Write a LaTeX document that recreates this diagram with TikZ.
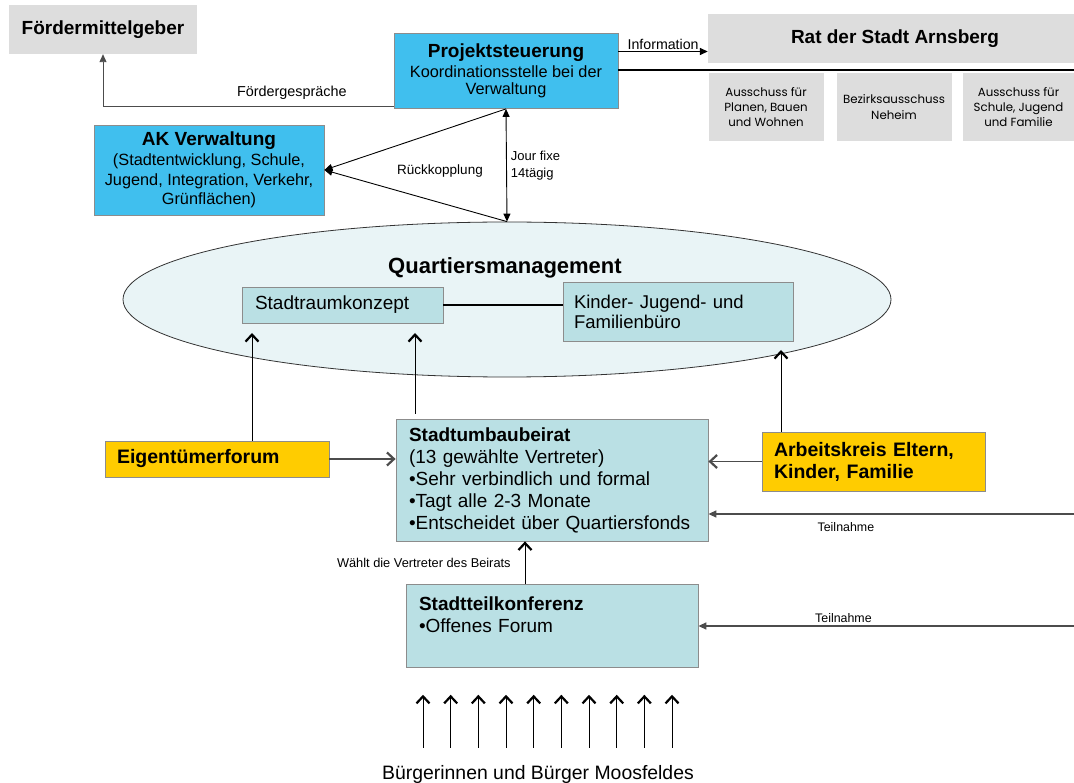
\documentclass[tikz,border=0pt]{standalone}
\usepackage{fontspec}
\setmainfont{Liberation Sans}
\newfontfamily\gothic{Poppins}
\usetikzlibrary{arrows.meta, positioning, calc, shapes.geometric}
\definecolor{ratgray}{RGB}{221,221,221}
\definecolor{skyblue1}{RGB}{64,191,238}
\definecolor{qmteal}{RGB}{186,224,228}
\definecolor{icefill}{RGB}{233,244,246}
\definecolor{gold1}{RGB}{255,204,0}
\definecolor{edgegray}{RGB}{140,140,140}
\tikzset{
  graybox/.style={fill=ratgray, inner sep=0pt, align=center, font=\bfseries\fontsize{19}{22}\selectfont},
  gremium/.style={fill=ratgray, inner sep=0pt, align=center, minimum height=68pt, font=\gothic\fontsize{11.8}{15.2}\selectfont},
  bluebox/.style={fill=skyblue1, draw=edgegray, line width=0.8pt, inner sep=0pt, align=center, font=\fontsize{16.3}{19}\selectfont},
  leftbox/.style={draw=edgegray, line width=0.8pt, inner ysep=0pt, inner xsep=12pt, align=left, font=\fontsize{19}{22}\selectfont},
  tealnode/.style={leftbox, fill=qmteal},
  goldnode/.style={leftbox, fill=gold1, font=\bfseries\fontsize{19.5}{22}\selectfont},
  lbl/.style={inner sep=0pt, font=\fontsize{#1}{#1}\selectfont},
  filltip/.style={-{Triangle[length=8pt,width=7pt]}, line width=0.9pt},
  openarr/.style={-{Straight Barb[length=7pt,width=13pt,line width=2.2pt]}, line width=0.8pt},
}
\begin{document}
\begin{tikzpicture}[x=1pt, y=-1pt]
  \useasboundingbox (0,0) rectangle (1074,783);
  % top row
  \node[graybox, minimum width=188pt, minimum height=49pt] (fmg) at (103,29.5) {Fördermittelgeber};
  \node[bluebox, minimum width=224pt, minimum height=75pt] (ps) at (506,71)
    {{\bfseries\fontsize{19}{20}\selectfont Projektsteuerung}\\[1.5pt]Koordinationsstelle bei der\\[-2pt]Verwaltung};
  \node[graybox, minimum width=374pt, minimum height=49pt] (rat) at (895,38.5) {Rat der Stadt Arnsberg};
  \node[gremium, minimum width=115pt] (aus1) at (766,107) {Ausschuss für\\Planen, Bauen\\und Wohnen};
  \node[gremium, minimum width=115pt] (bza) at (894,107) {Bezirksausschuss\\Neheim};
  \node[gremium, minimum width=111pt] (aus2) at (1018.5,107) {Ausschuss für\\Schule, Jugend\\und Familie};
  \node[bluebox, minimum width=230pt, minimum height=90pt, font=\fontsize{16.3}{19.5}\selectfont] (ak) at (209,170)
    {{\bfseries\fontsize{19}{20}\selectfont AK Verwaltung}\\[1pt](Stadtentwicklung, Schule,\\Jugend, Integration, Verkehr,\\Grünflächen)};
  % Quartiersmanagement
  \node[ellipse, draw=black!80, line width=0.8pt, fill=icefill, minimum width=768pt, minimum height=155pt, inner sep=0pt] (qm) at (507,299.5) {};
  \node[lbl=22, font=\bfseries\fontsize{22}{22}\selectfont] (qmtitle) at (505,268) {Quartiersmanagement};
  \node[tealnode, inner xsep=13pt, text width=175pt, minimum height=36pt] (srk) at (342.5,305) {Stadtraumkonzept};
  \node[tealnode, inner xsep=11pt, text width=208pt, minimum height=59pt, font=\fontsize{18.5}{20}\selectfont] (kjf) at (678,311.5) {Kinder- Jugend- und\\Familienbüro};
  % lower part
  \node[goldnode, text width=200pt, minimum height=36pt] (eig) at (217,459) {Eigentümerforum};
  \node[tealnode, inner xsep=13pt, text width=286pt, minimum height=122pt] (sub) at (552,480)
    {\textbf{Stadtumbaubeirat}\\(13 gewählte Vertreter)\\•Sehr verbindlich und formal\\•Tagt alle 2-3 Monate\\•Entscheidet über Quartiersfonds};
  \node[goldnode, text width=199pt, minimum height=59pt] (akf) at (873.5,461.5) {Arbeitskreis Eltern,\\Kinder, Familie};
  \node[tealnode, inner xsep=13pt, text width=266pt, minimum height=83pt] (stk) at (552,626)
    {\textbf{Stadtteilkonferenz}\\•Offenes Forum\\~};
  \node[lbl=19.4] (bu) at (538,774) {Bürgerinnen und Bürger Moosfeldes};
  \coordinate (t1) at (252,333);
  \coordinate (t2) at (415,333);
  \coordinate (t3) at (781,350);
  \coordinate (r1) at (1080,514);
  \coordinate (r2) at (1080,626);
  % connectors
  \draw[filltip, line width=1.4pt] ([yshift=19.5pt]ps.east) -- ([yshift=19.5pt]ps.east -| rat.west)
    node[midway, above=1pt, lbl=14.2] (info) {Information};
  \draw[line width=1.8pt] ([yshift=1pt]ps.east) -- ([yshift=1pt]ps.east -| rat.east);
  \draw[filltip, draw=black!70] ([yshift=2pt]ps.south west) -| (fmg.south)
    node[pos=0.175, above=7pt, lbl=14.4] (fg) {Fördergespräche};
  \draw[filltip] (ps.south) -- (ak.east);
  \draw[filltip] (qm.north) -- (ak.east);
  \node[lbl=13.5] (rk) at (440,171) {Rückkopplung};
  \draw[{Triangle[length=8pt,width=7pt]}-{Triangle[length=8pt,width=7pt]}, line width=0.9pt] (ps.south) -- (qm.north)
    node[midway, right=4pt, lbl=13, align=left, font=\fontsize{13}{17}\selectfont] (jf) {Jour fixe\\14tägig};
  \draw[line width=1.8pt] (srk.east) -- (srk.east -| kjf.west);
  \draw[openarr] (eig.north -| t1) -- (t1);
  \draw[openarr] ([yshift=5pt]sub.north -| t2) -- (t2);
  \draw[openarr] (akf.north -| t3) -- (t3);
  \draw[openarr, line width=1.4pt, draw=black!70] (eig.east) -- (sub.west |- eig.east);
  \draw[openarr, line width=1.4pt, draw=black!70] (akf.west) -- (sub.east |- akf.west);
  \draw[filltip, line width=1.4pt, draw=black!70] (r1) -- (sub.east |- r1)
    node[pos=0.63, below=8pt, lbl=12.4] (tn1) {Teilnahme};
  \draw[filltip, line width=1.4pt, draw=black!70] (r2) -- (stk.east |- r2)
    node[pos=0.62, above=3pt, lbl=12.4] (tn2) {Teilnahme};
  \draw[openarr] ([xshift=-27pt]stk.north) -- ([xshift=-27pt]sub.south)
    node[midway, left=14pt, lbl=12.8] (wv) {Wählt die Vertreter des Beirats};
  \foreach \i in {0,...,9}
    \draw[openarr] ([xshift={-115pt+27.67pt*\i}, yshift=17pt]bu.north) -- ++(0,-53);
\end{tikzpicture}
\end{document}
